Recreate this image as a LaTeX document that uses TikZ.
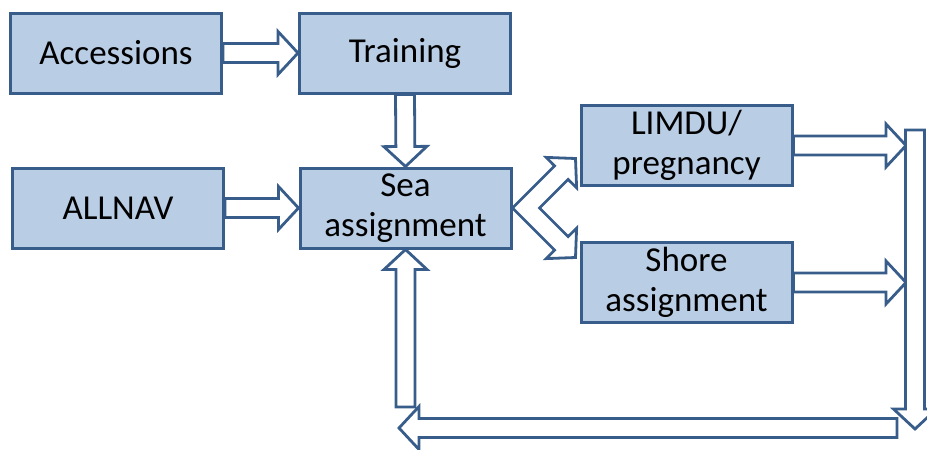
\documentclass[tikz,border=0pt]{standalone}
\usepackage{fontspec}
\setmainfont{Carlito}
\usetikzlibrary{calc}
\definecolor{boxfill}{HTML}{B9CDE5}
\definecolor{boxline}{HTML}{385D8A}
\begin{document}
\begin{tikzpicture}[x=0.5pt,y=-0.5pt,
  box/.style={draw=boxline,fill=boxfill,line width=1.5pt,minimum width=105.5pt,
    minimum height=40pt,inner sep=0pt,align=center,font=\fontsize{17.5}{20}\selectfont},
  fat/.style={draw=boxline,fill=white,line width=1.4pt,line join=miter},
  fatarrow/.style={fat,to path={($(\tikztostart)!4.75pt!90:(\tikztotarget)$)
    -- ($(\tikztotarget)!10pt!(\tikztostart)!4.75pt!-90:(\tikztostart)$)
    -- ($(\tikztotarget)!10pt!(\tikztostart)!10.75pt!-90:(\tikztostart)$)
    -- (\tikztotarget)
    -- ($(\tikztotarget)!10pt!(\tikztostart)!10.75pt!90:(\tikztostart)$)
    -- ($(\tikztotarget)!10pt!(\tikztostart)!4.75pt!90:(\tikztostart)$)
    -- ($(\tikztostart)!4.75pt!-90:(\tikztotarget)$) -- cycle}}]
\clip (0,0) rectangle (927,450);
\node[box] (acc) at (116,53) {Accessions};
\node[box] (train) at (405,53) {Training};
\node[box] (allnav) at (118,208) {ALLNAV};
\node[box] (sea) at (405.5,208) {Sea\\assignment};
\node[box] (limdu) at (686.5,145.5) {LIMDU/\\pregnancy};
\node[box] (shore) at (686.5,282.5) {Shore\\assignment};
% ends of the loop back to sea duty
\coordinate (rl) at (906,0);
\coordinate (rtop) at (915,130);
\coordinate (rbot) at (915,429);
\coordinate (bright) at (897,428);
\coordinate (bleft) at (399,428);
\coordinate (ubot) at (405.5,407);
\draw[fatarrow] (acc.east) to (train.west);
\draw[fatarrow] (train.south) to (sea.north);
\draw[fatarrow] (allnav.east) to (sea.west);
\draw[fatarrow] (limdu.east) to (limdu.east -| rl);
\draw[fatarrow] (shore.east) to (shore.east -| rl);
\draw[fatarrow] (rtop) to (rbot);
\draw[fatarrow] (bright) to (bleft);
\draw[fatarrow] (ubot) to (sea.south);
% split arrow out of sea duty
\draw[fat,shift={(sea.east)}] (0,0) -- (42.1,-42.1) -- (33.7,-50.6) -- (63,-49.5)
  -- (64.1,-20.2) -- (55.6,-28.6) -- (27,0) -- (55.6,28.6) -- (64.1,20.2)
  -- (63,49.5) -- (33.7,50.6) -- (42.1,42.1) -- cycle;
\end{tikzpicture}
\end{document}
